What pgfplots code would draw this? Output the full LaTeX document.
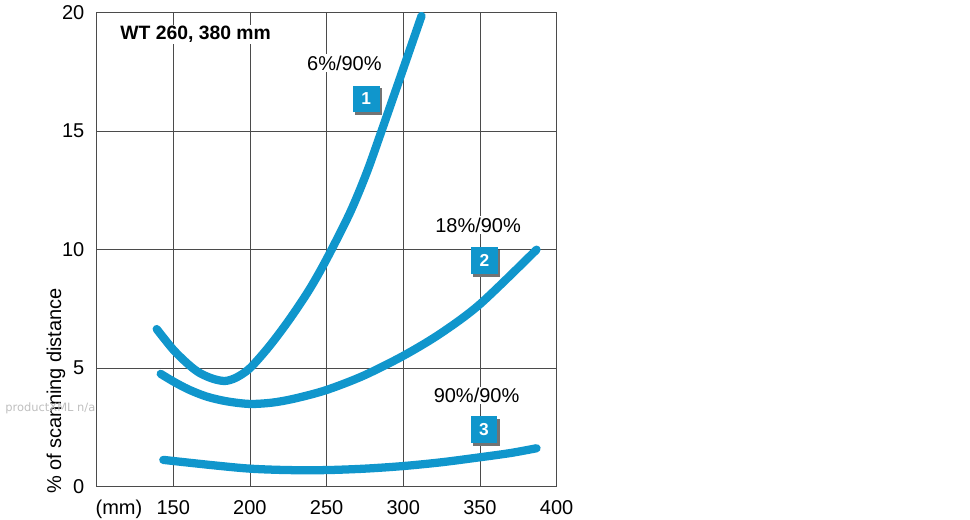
\documentclass[border=0pt]{standalone}
\usepackage{fontspec}
\setmainfont{Liberation Sans}
\newfontfamily\markfont{DejaVu Sans}
\usepackage{pgfplots}
\pgfplotsset{compat=1.18}

\definecolor{curveblue}{RGB}{16,150,204}
\definecolor{gridgray}{RGB}{75,75,75}
\definecolor{shadowgray}{RGB}{115,115,115}

\newcommand{\lbl}{\fontsize{15}{18}\selectfont}

\begin{document}
\begin{tikzpicture}
\begin{axis}[
    width=345pt, height=355.5pt, scale only axis,
    xmin=100, xmax=400, ymin=0, ymax=20,
    xtick={150,200,...,400},
    ytick={0,5,...,20},
    grid=major,
    major grid style={gridgray, line width=0.6pt},
    axis line style={gridgray, line width=0.6pt},
    major tick length=0pt,
    tick label style={font=\lbl},
    /pgf/number format/assume math mode=true,
    xticklabel style={anchor=base, yshift=-21pt, inner sep=0pt},
    yticklabel style={anchor=east, xshift=-9pt, inner sep=0pt},
    clip=false,
]
% 6%/90%
\addplot[curveblue, line width=6.2pt, line cap=round, smooth, tension=0.5] coordinates {
    (139.2,6.65) (150,5.78) (160,5.15) (167.4,4.79) (176,4.55) (183.7,4.46)
    (191,4.60) (200,5.00) (212.6,5.92) (225.6,7.04) (238.7,8.31) (250,9.60)
    (265.2,11.55) (276.1,13.24) (285.8,15.0) (299,17.45) (311.9,19.86)
};
% 18%/90%
\addplot[curveblue, line width=6.2pt, line cap=round, smooth, tension=0.5] coordinates {
    (141.8,4.76) (150,4.44) (160,4.10) (171.8,3.80) (185,3.60) (200,3.49)
    (215,3.55) (230,3.73) (250,4.08) (274,4.68) (300,5.52) (324,6.45)
    (350,7.70) (386.9,10.0)
};
% 90%/90%
\addplot[curveblue, line width=6.2pt, line cap=round, smooth, tension=0.5] coordinates {
    (143.5,1.13) (175,0.91) (200,0.76) (225,0.70) (250,0.70) (275,0.76)
    (300,0.87) (325,1.03) (350,1.24) (370,1.42) (386.9,1.62)
};

\node[anchor=west, fill=white, inner sep=1pt, font=\bfseries\fontsize{14.5}{17}\selectfont]
    at (axis cs:114.5,19.08) {WT 260, 380 mm};

\node[fill=white, inner sep=1pt, font=\lbl] at (axis cs:261.6,17.88) {6\%/90\%};
\node[fill=white, inner sep=1pt, font=\lbl] at (axis cs:348.8,11.04) {18\%/90\%};
\node[fill=white, inner sep=1pt, font=\lbl] at (axis cs:347.8,3.85) {90\%/90\%};

\node[fill=shadowgray, minimum size=20pt, inner sep=0pt, xshift=1.8pt, yshift=-1.8pt] at (axis cs:275.9,16.36) {};
\node[fill=curveblue, text=white, minimum size=20pt, inner sep=0pt, font=\bfseries\fontsize{13}{15}\selectfont] at (axis cs:275.9,16.36) {1};
\node[fill=shadowgray, minimum size=20pt, inner sep=0pt, xshift=1.8pt, yshift=-1.8pt] at (axis cs:352.9,9.53) {};
\node[fill=curveblue, text=white, minimum size=20pt, inner sep=0pt, font=\bfseries\fontsize{13}{15}\selectfont] at (axis cs:352.9,9.53) {2};
\node[fill=shadowgray, minimum size=20pt, inner sep=0pt, xshift=1.8pt, yshift=-1.8pt] at (axis cs:352.6,2.40) {};
\node[fill=curveblue, text=white, minimum size=20pt, inner sep=0pt, font=\bfseries\fontsize{13}{15}\selectfont] at (axis cs:352.6,2.40) {3};

\node[anchor=base, inner sep=0pt, font=\lbl, yshift=-21pt] at (axis cs:114.6,0) {(mm)};
\node[rotate=90, inner sep=0pt, font=\lbl] at (axis cs:73.5,4.04) {\% of scanning distance};
\node[anchor=west, inner sep=0pt, text=gray!50, font=\markfont\fontsize{8.6}{10}\selectfont]
    at (axis cs:40.3,3.32) {productXML n/a};

\coordinate (o) at (axis cs:100,0);
\end{axis}
\path (o) ++(-72.45pt,-25pt) rectangle ++(727.5pt,390pt);
\end{tikzpicture}
\end{document}
